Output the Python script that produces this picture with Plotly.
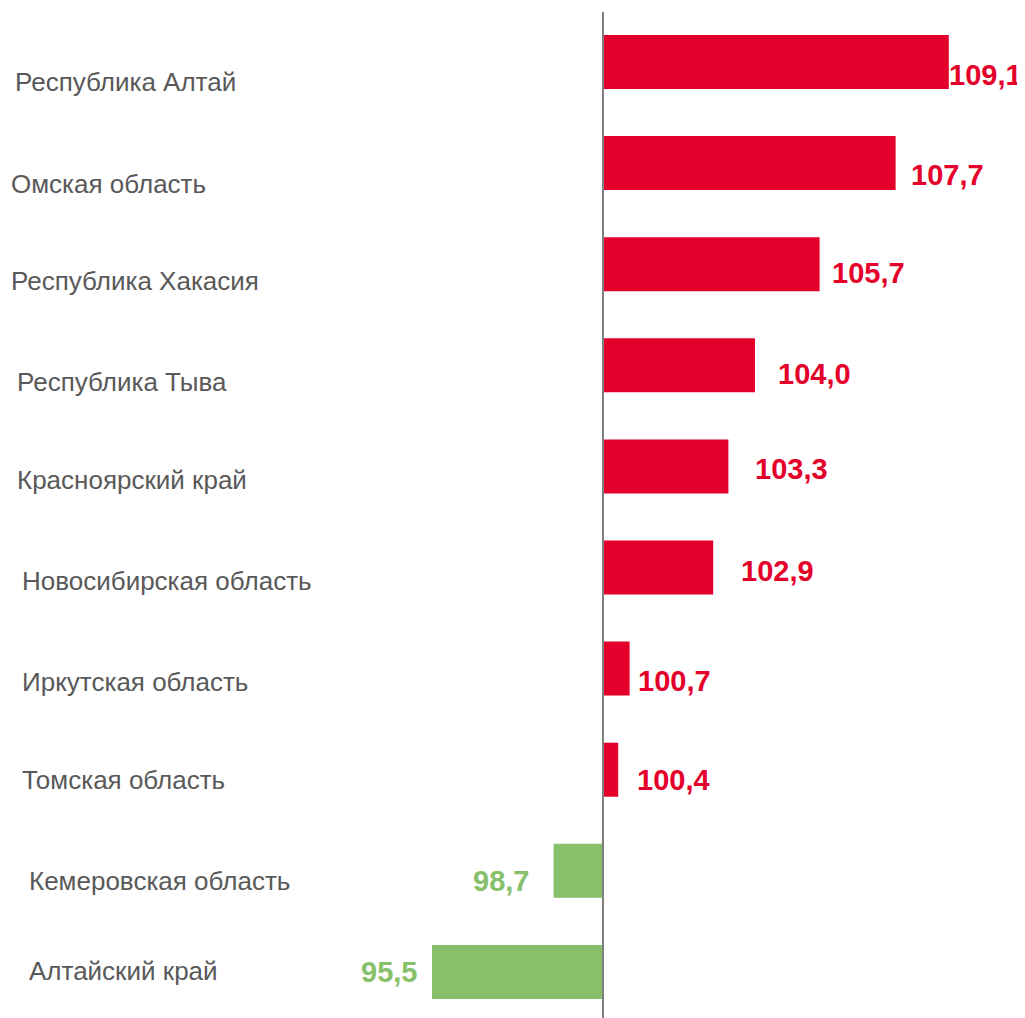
import plotly.graph_objects as go

regions = ["Республика Алтай", "Омская область", "Республика Хакасия", "Республика Тыва",
           "Красноярский край", "Новосибирская область", "Иркутская область", "Томская область",
           "Кемеровская область", "Алтайский край"]
values = [109.1, 107.7, 105.7, 104.0, 103.3, 102.9, 100.7, 100.4, 98.7, 95.5]
value_labels = ["109,1", "107,7", "105,7", "104,0", "103,3", "102,9", "100,7", "100,4", "98,7", "95,5"]
base_value = 100

RED = "#E4002B"
GREEN = "#86C06A"
colors = [RED if v >= base_value else GREEN for v in values]

# layout tweaks (pixel offsets) for label placement
cat_x_px = [5, 1, 1, 7, 7, 12, 12, 12, 19, 19]
cat_yshift = [-20, -21, -17, -17, -14, -13, -13, -10, -10, 1]
val_gap = [-2, 13, 10, 21, 25, 26, 6, 17, 23, 13]
val_yshift = [-13, -12, -9, -9, -3, -3, -12, -10, -10, 0]

# page body has an 8px default margin, so the figure is drawn 8px in from the window edge
W, H = 1017, 1010
PX_PER_UNIT = 38.0
AXIS_PX = 595
x0 = base_value - AXIS_PX / PX_PER_UNIT
x1 = base_value + (W - AXIS_PX) / PX_PER_UNIT

ROW_PX = 101.1
TOP_M = 4
first_off = 50.0 / ROW_PX
y_top = -first_off
y_bot = y_top + (H - TOP_M) / ROW_PX

fig = go.Figure(go.Bar(
    y=list(range(len(regions))), x=[v - base_value for v in values], base=base_value,
    orientation="h", marker=dict(color=colors, line=dict(width=0)), width=54 / ROW_PX,
    hoverinfo="skip",
))

ann = []
for i, (r, v, lab) in enumerate(zip(regions, values, value_labels)):
    ann.append(dict(x=cat_x_px[i] / W, xref="paper", y=i, yref="y", text=r, showarrow=False,
                    xanchor="left", yanchor="middle", yshift=cat_yshift[i],
                    font=dict(family="Liberation Sans, Arial", size=26, color="#595959")))
    pos = v >= base_value
    ann.append(dict(x=v, xref="x", y=i, yref="y", text="<b>%s</b>" % lab, showarrow=False,
                    xanchor="left" if pos else "right", yanchor="middle",
                    xshift=val_gap[i] if pos else -val_gap[i], yshift=val_yshift[i],
                    font=dict(family="Liberation Sans, Arial", size=29,
                              color=RED if pos else GREEN)))

fig.update_layout(
    width=W, height=H, margin=dict(l=0, r=0, t=TOP_M, b=0, autoexpand=False),
    paper_bgcolor="white", plot_bgcolor="white", showlegend=False,
    xaxis=dict(range=[x0, x1], visible=False, fixedrange=True),
    yaxis=dict(range=[y_bot, y_top], visible=False, fixedrange=True),
    annotations=ann,
    shapes=[dict(type="line", xref="x", yref="paper", x0=base_value, x1=base_value, y0=0, y1=1,
                 line=dict(color="#7F7F7F", width=2), layer="above")],
)

fig.write_html("out.html")
